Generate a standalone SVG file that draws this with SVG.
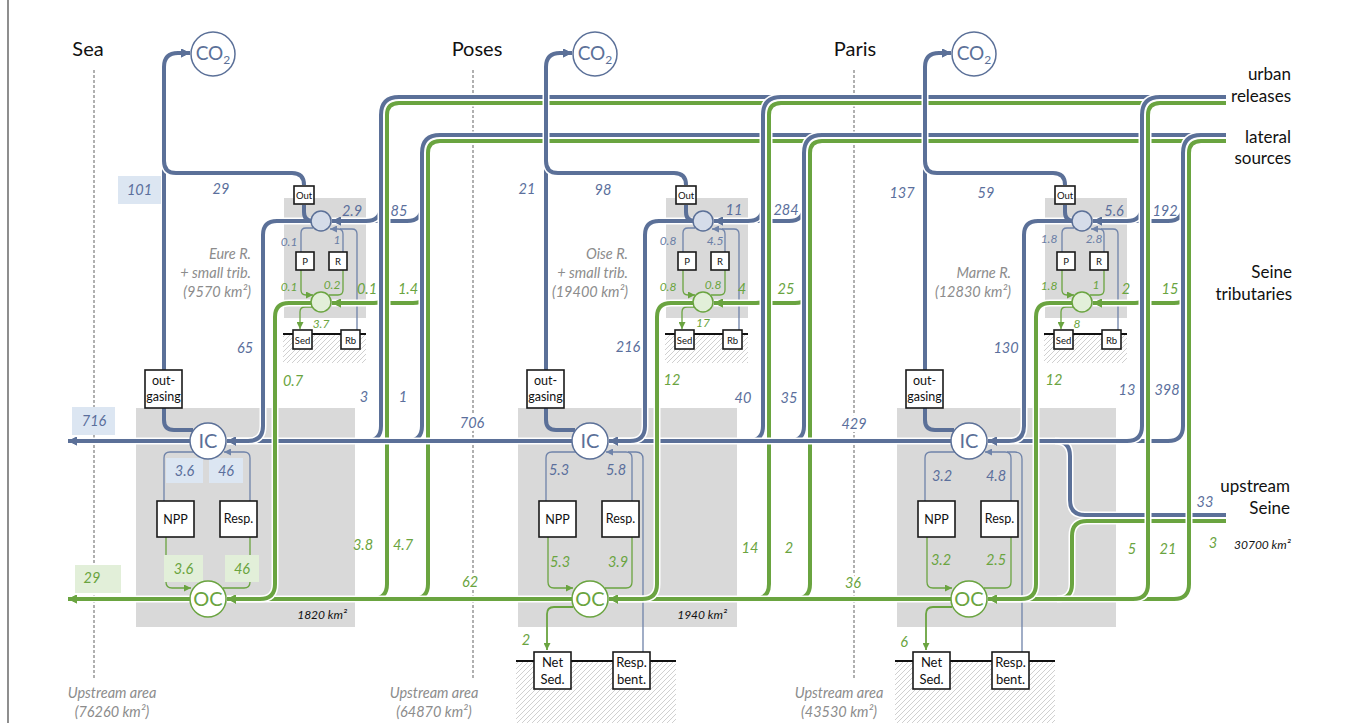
<svg xmlns="http://www.w3.org/2000/svg" width="1346" height="723" viewBox="0 0 1346 723">
<defs>
<style>
text{font-family:Lato,"Liberation Sans",sans-serif}
.case{fill:none;stroke:#fff;stroke-width:7}
.b{fill:none;stroke:#5b7098;stroke-width:4}
.g{fill:none;stroke:#6aa440;stroke-width:4}
.bt{fill:none;stroke:#6f83a9;stroke-width:1.3}
.gt{fill:none;stroke:#6aa440;stroke-width:1.3}
.gm{fill:none;stroke:#6aa440;stroke-width:1.8}
.panel{fill:#d9d9d9}
.hatch{fill:url(#hatch)}
.ground{stroke:#111;stroke-width:2;fill:none}
.box{fill:#fff;stroke:#1a1a1a;stroke-width:1.6}
.cb{fill:#fff;stroke:#5b7098;stroke-width:1.5}
.cg{fill:#fff;stroke:#6aa440;stroke-width:1.5}
.sbc{fill:#d5dce9;stroke:#5b7098;stroke-width:1.5}
.sgc{fill:#e2efd9;stroke:#6aa440;stroke-width:1.5}
.lbb{fill:#dce6f2}
.lbg{fill:#e2efd9}
.nb{font-style:italic;font-size:14.5px;fill:#5b6f9c;text-anchor:middle}
.ng{font-style:italic;font-size:14.5px;fill:#6aa440;text-anchor:middle}
.sb{font-style:italic;font-size:12px;fill:#6a7ea6;text-anchor:middle}
.sg{font-style:italic;font-size:12px;fill:#6aa440;text-anchor:middle}
.halo{stroke:#fff;stroke-width:6;paint-order:stroke;stroke-linejoin:round}
.title{font-size:20px;fill:#111;text-anchor:middle}
.side{font-size:17px;fill:#111;text-anchor:end}
.riv{font-style:italic;font-size:14.5px;fill:#8c8c8c;text-anchor:end}
.up{font-style:italic;font-size:14.5px;fill:#8c8c8c;text-anchor:middle}
.km{font-style:italic;font-size:12px;fill:#111;text-anchor:end}
.t9{font-size:9.5px;fill:#111;text-anchor:middle}
.t12{font-size:12.5px;fill:#111;text-anchor:middle}
.t13{font-size:13px;fill:#111;text-anchor:middle}
.icb{font-size:20px;fill:#5b7098;text-anchor:middle}
.icg{font-size:20px;fill:#6aa440;text-anchor:middle}
.co{font-size:19px;fill:#5b7098;text-anchor:middle}
.dash{stroke:#707070;stroke-width:1.1;stroke-dasharray:3 2;fill:none}
</style>
<marker id="aB" viewBox="0 0 10 10" refX="10" refY="5" markerWidth="9" markerHeight="9" markerUnits="userSpaceOnUse" orient="auto"><path d="M0,0 L10,5 L0,10 z" fill="#5b7098"/></marker>
<marker id="aG" viewBox="0 0 10 10" refX="10" refY="5" markerWidth="9" markerHeight="9" markerUnits="userSpaceOnUse" orient="auto"><path d="M0,0 L10,5 L0,10 z" fill="#6aa440"/></marker>
<marker id="aBt" viewBox="0 0 10 10" refX="10" refY="5" markerWidth="7" markerHeight="7" markerUnits="userSpaceOnUse" orient="auto"><path d="M0,0 L10,5 L0,10 z" fill="#6f83a9"/></marker>
<marker id="aGt" viewBox="0 0 10 10" refX="10" refY="5" markerWidth="7" markerHeight="7" markerUnits="userSpaceOnUse" orient="auto"><path d="M0,0 L10,5 L0,10 z" fill="#6aa440"/></marker>
<pattern id="hatch" width="5" height="5" patternUnits="userSpaceOnUse"><path d="M-1,6 L6,-1 M-1,1 L1,-1 M4,6 L6,4" stroke="#c4c4c4" stroke-width="0.8"/></pattern>
<path id="u1" d="M1226,515 H1085 Q1070,515 1070,500 V456 Q1070,441 1055,441"/>
<path id="u2" d="M1226,521 H1087 Q1072,521 1072,536 V584 Q1072,599 1057,599"/>
<path id="gl1" d="M1226,141 H440 Q428,141 428,153 V584 Q428,599 413,599"/>
<path id="gl2" d="M822,141 Q810,141 810,153 V584 Q810,599 795,599"/>
<path id="gl3" d="M1201,141 Q1189,141 1189,153 V584 Q1189,599 1174,599 H988" marker-end="url(#aG)"/>
<path id="glb1" d="M428,288 Q428,303 413,303 H332" marker-end="url(#aG)"/>
<path id="glb2" d="M810,288 Q810,303 795,303 H714" marker-end="url(#aG)"/>
<path id="glb3" d="M1189,288 Q1189,303 1174,303 H1093" marker-end="url(#aG)"/>
<path id="gub1" d="M387,290 Q387,303 374,303"/>
<path id="gub2" d="M769,290 Q769,303 756,303"/>
<path id="gub3" d="M1148,290 Q1148,303 1135,303"/>
<path id="bl1" d="M1226,135 H440 Q422,135 422,153 V426 Q422,441 407,441"/>
<path id="bl2" d="M822,135 Q804,135 804,153 V426 Q804,441 789,441"/>
<path id="bl3" d="M1201,135 Q1183,135 1183,153 V426 Q1183,441 1168,441 H988" marker-end="url(#aB)"/>
<path id="blb1" d="M422,206 Q422,221 407,221 H332" marker-end="url(#aB)"/>
<path id="blb2" d="M804,206 Q804,221 789,221 H714" marker-end="url(#aB)"/>
<path id="blb3" d="M1183,206 Q1183,221 1168,221 H1093" marker-end="url(#aB)"/>
<path id="gu1" d="M1226,103 H399 Q387,103 387,115 V584 Q387,599 372,599"/>
<path id="gu2" d="M781,103 Q769,103 769,115 V584 Q769,599 754,599"/>
<path id="gu3" d="M1160,103 Q1148,103 1148,115 V584 Q1148,599 1133,599"/>
<path id="bu1" d="M1226,97 H399 Q381,97 381,115 V426 Q381,441 366,441"/>
<path id="bu2" d="M781,97 Q763,97 763,115 V426 Q763,441 748,441"/>
<path id="bu3" d="M1160,97 Q1142,97 1142,115 V426 Q1142,441 1127,441"/>
<path id="bub1" d="M381,206 Q381,221 366,221"/>
<path id="bub2" d="M763,206 Q763,221 748,221"/>
<path id="bub3" d="M1142,206 Q1142,221 1127,221"/>
<path id="mb1" d="M190,441 H68" marker-end="url(#aB)"/>
<path id="mb2" d="M572,441 H227" marker-end="url(#aB)"/>
<path id="mb3" d="M951,441 H609" marker-end="url(#aB)"/>
<path id="tb1" d="M311,221 H277 Q263,221 263,235 V426 Q263,441 248,441 H227" marker-end="url(#aB)"/>
<path id="tb2" d="M693,221 H659 Q645,221 645,235 V426 Q645,441 630,441 H609" marker-end="url(#aB)"/>
<path id="tb3" d="M1072,221 H1038 Q1024,221 1024,235 V426 Q1024,441 1009,441 H988" marker-end="url(#aB)"/>
<path id="co1" d="M164,370 V67 Q164,53 178,53 H190" marker-end="url(#aB)"/>
<path id="co2" d="M546,370 V67 Q546,53 560,53 H572" marker-end="url(#aB)"/>
<path id="co3" d="M925,370 V67 Q925,53 939,53 H951" marker-end="url(#aB)"/>
<path id="ob1" d="M164,161 Q164,173 176,173 H292 Q304,173 304,185"/>
<path id="ob2" d="M546,161 Q546,173 558,173 H674 Q686,173 686,185"/>
<path id="ob3" d="M925,161 Q925,173 937,173 H1053 Q1065,173 1065,185"/>
<path id="oc1" d="M304,205 V212 Q304,221 313,221"/>
<path id="oc2" d="M686,205 V212 Q686,221 695,221"/>
<path id="oc3" d="M1065,205 V212 Q1065,221 1074,221"/>
<path id="og1" d="M164,408 V420 Q164,430 174,430 H193"/>
<path id="og2" d="M546,408 V420 Q546,430 556,430 H575"/>
<path id="og3" d="M925,408 V420 Q925,430 935,430 H954"/>
<path id="mg1" d="M190,599 H68" marker-end="url(#aG)"/>
<path id="mg2" d="M572,599 H227" marker-end="url(#aG)"/>
<path id="mg3" d="M951,599 H609" marker-end="url(#aG)"/>
<path id="tg1" d="M311,303 H289 Q275,303 275,317 V584 Q275,599 260,599 H227" marker-end="url(#aG)"/>
<path id="tg2" d="M693,303 H671 Q657,303 657,317 V584 Q657,599 642,599 H609" marker-end="url(#aG)"/>
<path id="tg3" d="M1072,303 H1050 Q1036,303 1036,317 V584 Q1036,599 1021,599 H988" marker-end="url(#aG)"/>
</defs>

<rect width="1346" height="723" fill="#fff"/>
<line x1="8" y1="0" x2="8" y2="723" stroke="#444" stroke-width="1.2"/>
<g id="panels">
<rect class="panel" x="136" y="408" width="219" height="219"/>
<rect class="panel" x="518" y="408" width="219" height="219"/>
<rect class="panel" x="897" y="408" width="219" height="219"/>
<rect class="panel" x="284" y="198" width="82" height="120"/>
<rect class="panel" x="666" y="198" width="82" height="120"/>
<rect class="panel" x="1045" y="198" width="82" height="120"/>
<rect class="hatch" x="283" y="334" width="83" height="29"/>
<rect class="hatch" x="665" y="334" width="83" height="29"/>
<rect class="hatch" x="1044" y="334" width="83" height="29"/>
<rect class="hatch" x="516" y="661" width="160" height="62"/>
<rect class="hatch" x="895" y="661" width="160" height="62"/>
<path class="ground" d="M283,334 H366 M665,334 H748 M1044,334 H1127 M516,661 H676 M895,661 H1055"/>
</g>
<g id="boundaries">
<path class="dash" d="M94,70 V678 M473,70 V678 M854,70 V678"/>
</g>

<g id="connectors">
<g id="thin">
<path class="bt" d="M313,228 H306 Q301,228 301,233 V252"/>
<path class="bt" d="M343,252 V234 Q343,229 338,229 H330" marker-end="url(#aBt)"/>
<path class="bt" d="M357,330 V234 Q357,229 352,229 H340"/>
<path class="gt" d="M301,270 V290 Q301,295 306,295 H313" marker-end="url(#aGt)"/>
<path class="gt" d="M343,270 V290 Q343,295 338,295 H329"/>
<path class="gt" d="M313,307 H305 Q300,307 300,312 V329" marker-end="url(#aGt)"/>
<path class="bt" d="M195,452 H170 Q164,452 164,458 V501"/>
<path class="bt" d="M250,501 V458 Q250,452 244,452 H224" marker-end="url(#aBt)"/>
<path class="gt" d="M166,537 V582 Q166,588 172,588 H191" marker-end="url(#aGt)"/>
<path class="gt" d="M250,537 V582 Q250,588 244,588 H223"/>

<path class="bt" d="M695,228 H688 Q683,228 683,233 V252"/>
<path class="bt" d="M725,252 V234 Q725,229 720,229 H712" marker-end="url(#aBt)"/>
<path class="bt" d="M739,330 V234 Q739,229 734,229 H722"/>
<path class="gt" d="M683,270 V290 Q683,295 688,295 H695" marker-end="url(#aGt)"/>
<path class="gt" d="M725,270 V290 Q725,295 720,295 H711"/>
<path class="gt" d="M695,307 H687 Q682,307 682,312 V329" marker-end="url(#aGt)"/>
<path class="bt" d="M577,452 H552 Q546,452 546,458 V501"/>
<path class="bt" d="M632,501 V458 Q632,452 626,452 H606" marker-end="url(#aBt)"/>
<path class="gt" d="M548,537 V582 Q548,588 554,588 H573" marker-end="url(#aGt)"/>
<path class="gt" d="M632,537 V582 Q632,588 626,588 H605"/>
<path class="bt" d="M643,652 V459 Q643,452 636,452 H628"/>
<path class="gm" d="M573,607 H554 Q547,607 547,614 V650" marker-end="url(#aGt)"/>

<path class="bt" d="M1074,228 H1067 Q1062,228 1062,233 V252"/>
<path class="bt" d="M1104,252 V234 Q1104,229 1099,229 H1091" marker-end="url(#aBt)"/>
<path class="bt" d="M1118,330 V234 Q1118,229 1113,229 H1101"/>
<path class="gt" d="M1062,270 V290 Q1062,295 1067,295 H1074" marker-end="url(#aGt)"/>
<path class="gt" d="M1104,270 V290 Q1104,295 1099,295 H1090"/>
<path class="gt" d="M1074,307 H1066 Q1061,307 1061,312 V329" marker-end="url(#aGt)"/>
<path class="bt" d="M956,452 H931 Q925,452 925,458 V501"/>
<path class="bt" d="M1011,501 V458 Q1011,452 1005,452 H985" marker-end="url(#aBt)"/>
<path class="gt" d="M927,537 V582 Q927,588 933,588 H952" marker-end="url(#aGt)"/>
<path class="gt" d="M1011,537 V582 Q1011,588 1005,588 H984"/>
<path class="bt" d="M1022,652 V459 Q1022,452 1015,452 H1007"/>
<path class="gm" d="M952,607 H933 Q926,607 926,614 V650" marker-end="url(#aGt)"/>
</g>
<g id="upstream-seine">
<use href="#u1" class="case"/><use href="#u1" class="b"/>
<use href="#u2" class="case"/><use href="#u2" class="g"/>
</g>
<g id="lateral-green">
<use href="#glb1" class="case"/><use href="#glb1" class="g"/>
<use href="#glb2" class="case"/><use href="#glb2" class="g"/>
<use href="#glb3" class="case"/><use href="#glb3" class="g"/>
<use href="#gub1" class="case"/><use href="#gub1" class="g"/>
<use href="#gub2" class="case"/><use href="#gub2" class="g"/>
<use href="#gub3" class="case"/><use href="#gub3" class="g"/>
<use href="#gl1" class="case"/><use href="#gl1" class="g"/>
<use href="#gl2" class="case"/><use href="#gl2" class="g"/>
<use href="#gl3" class="case"/><use href="#gl3" class="g"/>
</g>
<g id="lateral-blue">
<use href="#blb1" class="case"/><use href="#blb1" class="b"/>
<use href="#blb2" class="case"/><use href="#blb2" class="b"/>
<use href="#blb3" class="case"/><use href="#blb3" class="b"/>
<use href="#bl1" class="case"/><use href="#bl1" class="b"/>
<use href="#bl2" class="case"/><use href="#bl2" class="b"/>
<use href="#bl3" class="case"/><use href="#bl3" class="b"/>
</g>
<g id="urban-green">
<use href="#gu1" class="case"/><use href="#gu1" class="g"/>
<use href="#gu2" class="case"/><use href="#gu2" class="g"/>
<use href="#gu3" class="case"/><use href="#gu3" class="g"/>
</g>
<g id="urban-blue">
<use href="#bub1" class="case"/><use href="#bub1" class="b"/>
<use href="#bub2" class="case"/><use href="#bub2" class="b"/>
<use href="#bub3" class="case"/><use href="#bub3" class="b"/>
<use href="#bu1" class="case"/><use href="#bu1" class="b"/>
<use href="#bu2" class="case"/><use href="#bu2" class="b"/>
<use href="#bu3" class="case"/><use href="#bu3" class="b"/>
</g>
<g id="inorganic-main">
<use href="#mb1" class="case"/><use href="#mb1" class="b"/>
<use href="#mb2" class="case"/><use href="#mb2" class="b"/>
<use href="#mb3" class="case"/><use href="#mb3" class="b"/>
<use href="#tb1" class="case"/><use href="#tb1" class="b"/>
<use href="#tb2" class="case"/><use href="#tb2" class="b"/>
<use href="#tb3" class="case"/><use href="#tb3" class="b"/>
<use href="#co1" class="case"/><use href="#co1" class="b"/>
<use href="#co2" class="case"/><use href="#co2" class="b"/>
<use href="#co3" class="case"/><use href="#co3" class="b"/>
<use href="#ob1" class="case"/><use href="#ob1" class="b"/>
<use href="#ob2" class="case"/><use href="#ob2" class="b"/>
<use href="#ob3" class="case"/><use href="#ob3" class="b"/>
<use href="#oc1" class="b"/><use href="#oc2" class="b"/><use href="#oc3" class="b"/>
<use href="#og1" class="b"/><use href="#og2" class="b"/><use href="#og3" class="b"/>
</g>
<g id="organic-main">
<use href="#mg1" class="case"/><use href="#mg1" class="g"/>
<use href="#mg2" class="case"/><use href="#mg2" class="g"/>
<use href="#mg3" class="case"/><use href="#mg3" class="g"/>
<use href="#tg1" class="case"/><use href="#tg1" class="g"/>
<use href="#tg2" class="case"/><use href="#tg2" class="g"/>
<use href="#tg3" class="case"/><use href="#tg3" class="g"/>
</g>
</g>

<g id="label-boxes">
<rect class="lbb" x="118" y="176" width="43" height="28"/>
<rect class="lbb" x="72" y="407" width="43" height="28"/>
<rect class="lbb" x="166" y="458" width="37" height="25"/>
<rect class="lbb" x="209" y="458" width="34" height="25"/>
<rect class="lbg" x="164" y="555" width="39" height="27"/>
<rect class="lbg" x="225" y="555" width="34" height="27"/>
<rect class="lbg" x="75" y="565" width="46" height="28"/>
</g>

<g id="co2-1"><circle class="cb" cx="213" cy="54" r="22"/><text class="co" x="213" y="60">CO<tspan font-size="12" dy="4">2</tspan></text></g>
<g id="out-1"><rect class="box" x="294" y="186" width="20" height="18"/><text class="t9" x="304" y="199">Out</text></g>
<g id="ic-small-1"><circle class="sbc" cx="321" cy="221" r="10"/></g>
<g id="oc-small-1"><circle class="sgc" cx="321" cy="302" r="10"/></g>
<g id="p-1"><rect class="box" x="296" y="252" width="18" height="18"/><text class="t9" x="305" y="265">P</text></g>
<g id="r-1"><rect class="box" x="329" y="252" width="18" height="18"/><text class="t9" x="338" y="265">R</text></g>
<g id="sed-1"><rect class="box" x="293" y="330" width="19" height="19"/><text class="t9" x="302.5" y="343.5">Sed</text></g>
<g id="rb-1"><rect class="box" x="341" y="330" width="19" height="19"/><text class="t9" x="350.5" y="343.5">Rb</text></g>
<g id="outgas-1"><rect class="box" x="145" y="370" width="37" height="38"/><text class="t12" x="163.5" y="385">out-</text><text class="t12" x="163.5" y="401">gasing</text></g>
<g id="ic-1"><circle class="cb" cx="208" cy="441" r="18"/><text class="icb" x="208" y="448">IC</text></g>
<g id="oc-1"><circle class="cg" cx="208" cy="599" r="18"/><text class="icg" x="208" y="606">OC</text></g>
<g id="npp-1"><rect class="box" x="157" y="501" width="37" height="36"/><text class="t12" x="175.5" y="523.5">NPP</text></g>
<g id="resp-1"><rect class="box" x="220" y="501" width="37" height="36"/><text class="t12" x="238.5" y="523">Resp.</text></g>

<g id="co2-2"><circle class="cb" cx="595" cy="54" r="22"/><text class="co" x="595" y="60">CO<tspan font-size="12" dy="4">2</tspan></text></g>
<g id="out-2"><rect class="box" x="676" y="186" width="20" height="18"/><text class="t9" x="686" y="199">Out</text></g>
<g id="ic-small-2"><circle class="sbc" cx="703" cy="221" r="10"/></g>
<g id="oc-small-2"><circle class="sgc" cx="703" cy="302" r="10"/></g>
<g id="p-2"><rect class="box" x="678" y="252" width="18" height="18"/><text class="t9" x="687" y="265">P</text></g>
<g id="r-2"><rect class="box" x="711" y="252" width="18" height="18"/><text class="t9" x="720" y="265">R</text></g>
<g id="sed-2"><rect class="box" x="675" y="330" width="19" height="19"/><text class="t9" x="684.5" y="343.5">Sed</text></g>
<g id="rb-2"><rect class="box" x="723" y="330" width="19" height="19"/><text class="t9" x="732.5" y="343.5">Rb</text></g>
<g id="outgas-2"><rect class="box" x="527" y="370" width="37" height="38"/><text class="t12" x="545.5" y="385">out-</text><text class="t12" x="545.5" y="401">gasing</text></g>
<g id="ic-2"><circle class="cb" cx="590" cy="441" r="18"/><text class="icb" x="590" y="448">IC</text></g>
<g id="oc-2"><circle class="cg" cx="590" cy="599" r="18"/><text class="icg" x="590" y="606">OC</text></g>
<g id="npp-2"><rect class="box" x="539" y="501" width="37" height="36"/><text class="t12" x="557.5" y="523.5">NPP</text></g>
<g id="resp-2"><rect class="box" x="602" y="501" width="37" height="36"/><text class="t12" x="620.5" y="523">Resp.</text></g>
<g id="netsed-2"><rect class="box" x="534" y="652" width="37" height="37"/><text class="t13" x="552.5" y="667">Net</text><text class="t13" x="552.5" y="684">Sed.</text></g>
<g id="respbent-2"><rect class="box" x="613" y="652" width="37" height="37"/><text class="t13" x="631.5" y="667">Resp.</text><text class="t13" x="631.5" y="684">bent.</text></g>

<g id="co2-3"><circle class="cb" cx="974" cy="54" r="22"/><text class="co" x="974" y="60">CO<tspan font-size="12" dy="4">2</tspan></text></g>
<g id="out-3"><rect class="box" x="1055" y="186" width="20" height="18"/><text class="t9" x="1065" y="199">Out</text></g>
<g id="ic-small-3"><circle class="sbc" cx="1082" cy="221" r="10"/></g>
<g id="oc-small-3"><circle class="sgc" cx="1082" cy="302" r="10"/></g>
<g id="p-3"><rect class="box" x="1057" y="252" width="18" height="18"/><text class="t9" x="1066" y="265">P</text></g>
<g id="r-3"><rect class="box" x="1090" y="252" width="18" height="18"/><text class="t9" x="1099" y="265">R</text></g>
<g id="sed-3"><rect class="box" x="1054" y="330" width="19" height="19"/><text class="t9" x="1063.5" y="343.5">Sed</text></g>
<g id="rb-3"><rect class="box" x="1102" y="330" width="19" height="19"/><text class="t9" x="1111.5" y="343.5">Rb</text></g>
<g id="outgas-3"><rect class="box" x="906" y="370" width="37" height="38"/><text class="t12" x="924.5" y="385">out-</text><text class="t12" x="924.5" y="401">gasing</text></g>
<g id="ic-3"><circle class="cb" cx="969" cy="441" r="18"/><text class="icb" x="969" y="448">IC</text></g>
<g id="oc-3"><circle class="cg" cx="969" cy="599" r="18"/><text class="icg" x="969" y="606">OC</text></g>
<g id="npp-3"><rect class="box" x="918" y="501" width="37" height="36"/><text class="t12" x="936.5" y="523.5">NPP</text></g>
<g id="resp-3"><rect class="box" x="981" y="501" width="37" height="36"/><text class="t12" x="999.5" y="523">Resp.</text></g>
<g id="netsed-3"><rect class="box" x="913" y="652" width="37" height="37"/><text class="t13" x="931.5" y="667">Net</text><text class="t13" x="931.5" y="684">Sed.</text></g>
<g id="respbent-3"><rect class="box" x="992" y="652" width="37" height="37"/><text class="t13" x="1010.5" y="667">Resp.</text><text class="t13" x="1010.5" y="684">bent.</text></g>

<g id="titles">
<text class="title" x="88" y="56">Sea</text>
<text class="title" x="477" y="56">Poses</text>
<text class="title" x="855" y="56">Paris</text>
<text class="side" x="1291" y="80">urban</text>
<text class="side" x="1291" y="102">releases</text>
<text class="side" x="1291" y="143">lateral</text>
<text class="side" x="1291" y="164">sources</text>
<text class="side" x="1292" y="278">Seine</text>
<text class="side" x="1292" y="300">tributaries</text>
<text class="side" x="1290" y="492">upstream</text>
<text class="side" x="1290" y="514">Seine</text>
<text class="riv" x="251" y="259">Eure R.</text>
<text class="riv" x="251" y="278">+ small trib.</text>
<text class="riv" x="251" y="297">(9570 km²)</text>
<text class="riv" x="628" y="259">Oise R.</text>
<text class="riv" x="628" y="278">+ small trib.</text>
<text class="riv" x="628" y="297">(19400 km²)</text>
<text class="riv" x="1011" y="278">Marne R.</text>
<text class="riv" x="1011" y="297">(12830 km²)</text>
<text class="up" x="112" y="698">Upstream area</text>
<text class="up" x="112" y="717">(76260 km²)</text>
<text class="up" x="434" y="698">Upstream area</text>
<text class="up" x="434" y="717">(64870 km²)</text>
<text class="up" x="839" y="698">Upstream area</text>
<text class="up" x="839" y="717">(43530 km²)</text>
<text class="km" x="347" y="619">1820 km²</text>
<text class="km" x="727" y="619">1940 km²</text>
<text class="km" x="1234" y="549" style="text-anchor:start">30700 km²</text>
</g>

<g id="values">
<text class="nb" x="139.5" y="195">101</text>
<text class="nb" x="221" y="194">29</text>
<text class="nb" x="352" y="216">2.9</text>
<text class="nb" x="399" y="216">85</text>
<text class="sb" x="289" y="246">0.1</text>
<text class="sb" x="337" y="244">1</text>
<text class="sg" x="289" y="291">0.1</text>
<text class="sg" x="332" y="289">0.2</text>
<text class="ng" x="367" y="294">0.1</text>
<text class="ng" x="408" y="294">1.4</text>
<text class="sg" x="321" y="328">3.7</text>
<text class="nb" x="245" y="353">65</text>
<text class="ng" x="293" y="386">0.7</text>
<text class="nb" x="364" y="402">3</text>
<text class="nb" x="403" y="402">1</text>
<text class="nb" x="94" y="426">716</text>
<text class="nb" x="184.5" y="476">3.6</text>
<text class="nb" x="226" y="476">46</text>
<text class="ng" x="363" y="550">3.8</text>
<text class="ng" x="403" y="550">4.7</text>
<text class="ng" x="183.5" y="574">3.6</text>
<text class="ng" x="242" y="574">46</text>
<text class="ng" x="92" y="583">29</text>

<text class="nb" x="527" y="194">21</text>
<text class="nb" x="603" y="195">98</text>
<text class="nb" x="734" y="215">11</text>
<text class="nb" x="786" y="215">284</text>
<text class="sb" x="668" y="245">0.8</text>
<text class="sb" x="715" y="245">4.5</text>
<text class="sg" x="668" y="291">0.8</text>
<text class="sg" x="713" y="289">0.8</text>
<text class="ng" x="742" y="294">4</text>
<text class="ng" x="786" y="294">25</text>
<text class="sg" x="703" y="327">17</text>
<text class="nb" x="628" y="352">216</text>
<text class="ng" x="672" y="385">12</text>
<text class="nb" x="743" y="403">40</text>
<text class="nb" x="789" y="403">35</text>
<text class="nb halo" x="472" y="428">706</text>
<text class="nb" x="559" y="475">5.3</text>
<text class="nb" x="616" y="475">5.8</text>
<text class="ng" x="750" y="553">14</text>
<text class="ng" x="789" y="553">2</text>
<text class="ng" x="560" y="567">5.3</text>
<text class="ng" x="618" y="567">3.9</text>
<text class="ng halo" x="470" y="587">62</text>
<text class="ng" x="526" y="645">2</text>

<text class="nb" x="902" y="198">137</text>
<text class="nb" x="986" y="198">59</text>
<text class="nb" x="1114" y="216">5.6</text>
<text class="nb" x="1165" y="216">192</text>
<text class="sb" x="1049" y="243">1.8</text>
<text class="sb" x="1094" y="243">2.8</text>
<text class="sg" x="1049" y="290">1.8</text>
<text class="sg" x="1096" y="289">1</text>
<text class="ng" x="1126" y="294">2</text>
<text class="ng" x="1170" y="294">15</text>
<text class="sg" x="1077" y="328">8</text>
<text class="nb" x="1006" y="353">130</text>
<text class="ng" x="1054" y="385">12</text>
<text class="nb" x="1127" y="395">13</text>
<text class="nb" x="1167" y="395">398</text>
<text class="nb halo" x="854" y="429">429</text>
<text class="nb" x="942" y="481">3.2</text>
<text class="nb" x="996" y="481">4.8</text>
<text class="nb" x="1205" y="507">33</text>
<text class="ng" x="1213" y="548">3</text>
<text class="ng" x="1132" y="554">5</text>
<text class="ng" x="1168" y="554">21</text>
<text class="ng" x="941" y="565">3.2</text>
<text class="ng" x="996" y="565">2.5</text>
<text class="ng halo" x="853" y="588">36</text>
<text class="ng" x="904" y="647">6</text>
</g>
</svg>
